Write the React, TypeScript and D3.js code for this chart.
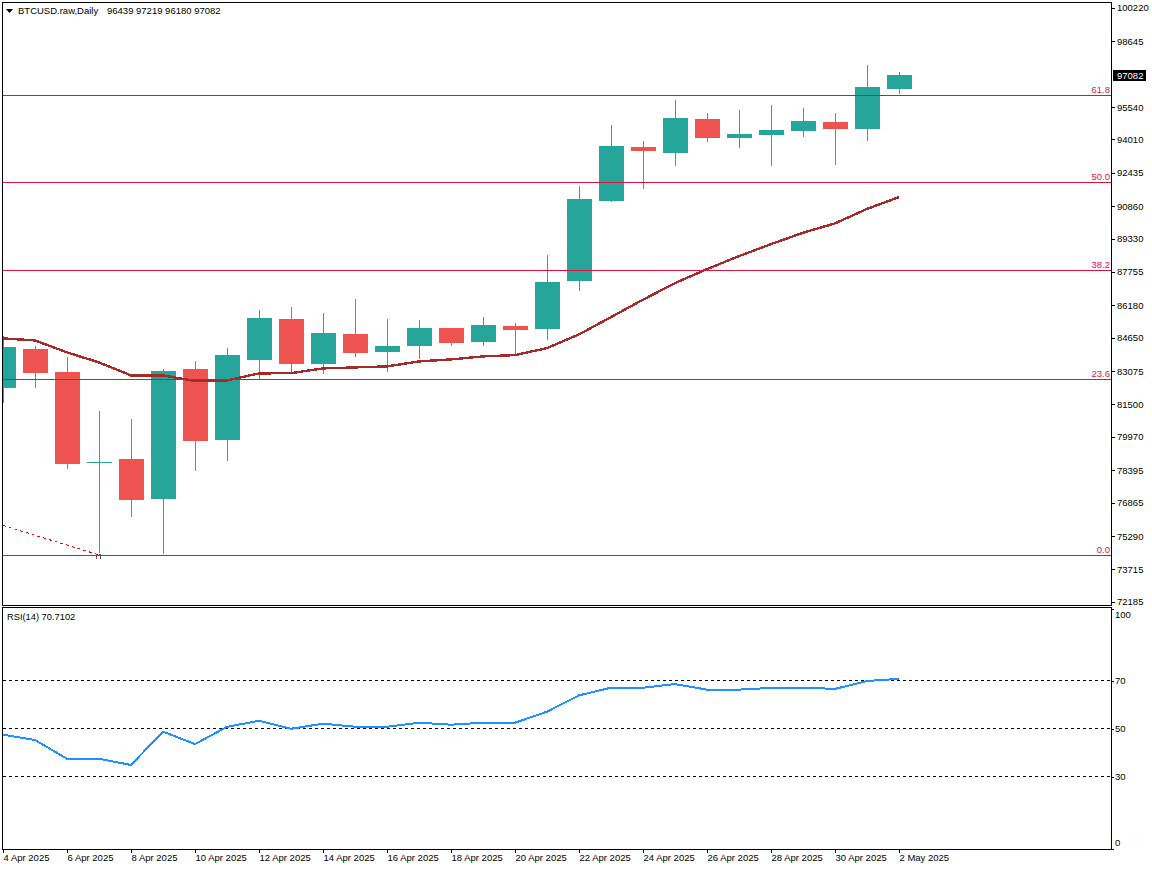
import { useEffect, useRef } from "react";
import * as d3 from "d3";

const width = 1152;
const height = 870;

// one candle per calendar day, 4 Apr to 2 May 2025
const opens = [82284, 84125, 83040, 78750, 78933, 77045, 83181, 79830, 83606, 85541, 83417, 84833, 83984, 84267, 85116, 84456, 85211, 85069, 87335, 91111, 93660, 93376, 94981, 94084, 94226, 94415, 94840, 94509, 96439];
const highs = [84739, 84267, 83748, 81199, 80821, 83181, 83559, 84172, 85966, 86108, 85824, 86485, 85541, 85494, 85140, 85636, 85352, 88562, 91819, 94698, 93943, 95878, 95264, 95406, 95642, 95500, 95264, 97530, 97219];
const lows = [81576, 82284, 78461, 74496, 76196, 74449, 78367, 78839, 82709, 82992, 82945, 83748, 83040, 83653, 84267, 84267, 83889, 84550, 86863, 91064, 91677, 92763, 93896, 93612, 92763, 94132, 92810, 93943, 96180];
const closes = [84220, 82992, 78697, 78792, 76998, 83087, 79783, 83842, 85588, 83417, 84880, 83936, 84267, 85116, 84406, 85258, 85022, 87288, 91205, 93707, 93471, 95028, 94084, 94273, 94462, 94887, 94509, 96492, 97082];
const maValues = [84644, 84550, 83984, 83512, 82898, 82898, 82638, 82662, 82992, 83006, 83228, 83276, 83323, 83559, 83653, 83795, 83856, 84187, 84833, 85650, 86471, 87255, 87915, 88529, 89095, 89633, 90072, 90757, 91314];
const rsiValues = [47.4, 45.2, 37.4, 37.4, 34.8, 48.7, 43.5, 50.7, 53.2, 49.9, 52.0, 50.75, 50.75, 52.4, 51.6, 52.4, 52.4, 57.0, 63.8, 67.0, 67.0, 68.5, 66.2, 66.2, 66.9, 67.0, 66.5, 69.8, 70.7];

const priceTicks = [100220, 98645, 95540, 94010, 92435, 90860, 89330, 87755, 86180, 84650, 83075, 81500, 79970, 78395, 76865, 75290, 73715, 72185];
const rsiTicks = [100, 70, 50, 30, 0];
const rsiLevels = [70, 50, 30];
const fibLevels = ["61.8", "50.0", "38.2", "23.6", "0.0"];
const fibPrices = [96090, 91984, 87830, 82686, 74378];
const trendPrices = [75818, 74426];
const lastPrice = 97082;

const GREEN = "#26a69a";
const RED = "#ef5350";
const CRIMSON = "#dc143c";
const FONT = "'Liberation Sans', sans-serif";

export default function App() {
  const svgRef = useRef<SVGSVGElement>(null);

  useEffect(() => {
    if (!svgRef.current) return;
    const svg = d3.select(svgRef.current);
    svg.selectAll("*").remove();

    const start = new Date(Date.UTC(2025, 3, 4));
    const end = new Date(Date.UTC(2025, 4, 2));
    const days = d3.utcDay.range(start, d3.utcDay.offset(end, 1));
    const x = d3.scaleUtc().domain([start, end]).range([3, 899]);
    const y = d3.scaleLinear().domain([72185, 100220]).range([602.4, 8.4]);
    const yRsi = d3.scaleLinear().domain([0, 100]).range([848.5, 608.5]);

    const defs = svg.append("defs");
    defs.append("clipPath").attr("id", "main-clip").append("rect")
      .attr("x", 3).attr("y", 3).attr("width", 1108).attr("height", 602);
    defs.append("clipPath").attr("id", "rsi-clip").append("rect")
      .attr("x", 3).attr("y", 608).attr("width", 1108).attr("height", 241);

    svg.append("rect").attr("width", width).attr("height", height).attr("fill", "#fff");

    const main = svg.append("g").attr("clip-path", "url(#main-clip)").attr("shape-rendering", "crispEdges");

    // Candles
    days.forEach((day, i) => {
      const cx = Math.round(x(day));
      const color = closes[i] >= opens[i] ? GREEN : RED;
      main.append("line")
        .attr("x1", cx + 0.5).attr("x2", cx + 0.5)
        .attr("y1", y(highs[i])).attr("y2", y(lows[i]))
        .attr("stroke", color);
      const top = Math.round(y(Math.max(opens[i], closes[i])));
      const bottom = Math.round(y(Math.min(opens[i], closes[i])));
      main.append("rect")
        .attr("x", cx - 12).attr("y", top)
        .attr("width", 25).attr("height", Math.max(bottom - top, 1))
        .attr("fill", color);
    });

    // Moving average
    const maLine = d3.line<number>().x((_, i) => x(days[i])).y((d) => y(d));
    main.append("path").attr("d", maLine(maValues))
      .attr("fill", "none").attr("stroke", "#a52a2a").attr("stroke-width", 2.4);

    // Dotted trend line with its end mark
    main.append("line")
      .attr("x1", x(days[0])).attr("x2", x(days[3]))
      .attr("y1", y(trendPrices[0])).attr("y2", y(trendPrices[1]))
      .attr("stroke", "#ff0000").attr("stroke-dasharray", "3,3");
    const endX = Math.round(x(days[3]));
    const endY = Math.round(y(trendPrices[1]));
    main.append("path")
      .attr("d", `M${endX - 2.5},${endY + 1}v3M${endX + 1.5},${endY + 1}v3M${endX},${endY - 0.5}h2`)
      .attr("fill", "none").attr("stroke", "#555");

    // Fibonacci levels
    fibPrices.forEach((p, i) => {
      const ly = Math.floor(y(p)) + 0.5;
      main.append("line").attr("x1", 3).attr("x2", 1111).attr("y1", ly).attr("y2", ly).attr("stroke", CRIMSON);
      svg.append("text")
        .attr("x", 1110).attr("y", ly - 3)
        .attr("text-anchor", "end")
        .attr("font-family", FONT).attr("font-size", 9.5)
        .attr("fill", CRIMSON)
        .text(fibLevels[i]);
    });

    // RSI panel
    const rsi = svg.append("g").attr("clip-path", "url(#rsi-clip)").attr("shape-rendering", "crispEdges");
    rsiLevels.forEach((lv) => {
      const ly = Math.floor(yRsi(lv)) + 0.5;
      rsi.append("line").attr("x1", 3).attr("x2", 1111).attr("y1", ly).attr("y2", ly)
        .attr("stroke", "#000").attr("stroke-dasharray", "3,3");
    });
    const rsiLine = d3.line<number>().x((_, i) => x(days[i])).y((d) => yRsi(d));
    rsi.append("path").attr("d", rsiLine(rsiValues))
      .attr("fill", "none").attr("stroke", "#1e90ff").attr("stroke-width", 2);

    // Frames
    const frames = svg.append("g").attr("fill", "none").attr("stroke", "#000").attr("shape-rendering", "crispEdges");
    frames.append("rect").attr("x", 2.5).attr("y", 2.5).attr("width", 1109).attr("height", 603);
    frames.append("rect").attr("x", 2.5).attr("y", 607.5).attr("width", 1109).attr("height", 242);

    // Axes
    const styleAxis = (g: d3.Selection<SVGGElement, unknown, null, undefined>) => {
      g.select(".domain").remove();
      g.selectAll("line").attr("stroke", "#000").attr("shape-rendering", "crispEdges");
      g.selectAll("text").attr("font-family", FONT).attr("font-size", 9.5).attr("fill", "#000");
    };

    svg.append("g")
      .attr("transform", "translate(1112,-0.6)")
      .call(d3.axisRight(y).tickValues(priceTicks).tickSize(3).tickPadding(2).tickFormat(d3.format("d")))
      .call(styleAxis);

    const rsiAxis = svg.append("g")
      .attr("transform", "translate(1112,0)")
      .call(d3.axisRight(yRsi).tickValues(rsiTicks).tickSize(2).tickPadding(1).tickFormat(d3.format("d")))
      .call(styleAxis);
    // end labels sit inside the panel
    rsiAxis.selectAll<SVGTextElement, number>("text")
      .attr("dy", (d) => (d === 100 ? "0.9em" : d === 0 ? "-0.27em" : "0.32em"));

    const xTicks = days.filter((_, i) => i % 2 === 0);
    svg.append("g")
      .attr("transform", "translate(0,849)")
      .call(d3.axisBottom(x).tickValues(xTicks).tickSize(4).tickPadding(1).tickFormat((d) => d3.utcFormat("%-d %b %Y")(d as Date)))
      .call(styleAxis)
      .selectAll("text").attr("text-anchor", "start");

    // Current price tag
    const tagY = Math.round(y(lastPrice));
    svg.append("rect").attr("x", 1113).attr("y", tagY - 5).attr("width", 33).attr("height", 11).attr("fill", "#000");
    svg.append("text").attr("x", 1117).attr("y", tagY + 3.5)
      .attr("font-family", FONT).attr("font-size", 9.5).attr("fill", "#fff").text(lastPrice);

    // Headers
    svg.append("path").attr("d", "M6,9h7l-3.5,4z").attr("fill", "#000");
    svg.append("text").attr("x", 18).attr("y", 14)
      .attr("font-family", FONT).attr("font-size", 9.5).attr("fill", "#000")
      .text("BTCUSD.raw,Daily");
    svg.append("text").attr("x", 107).attr("y", 14)
      .attr("font-family", FONT).attr("font-size", 9.5).attr("fill", "#000")
      .text(`${opens[28]} ${highs[28]} ${lows[28]} ${closes[28]}`);
    svg.append("text").attr("x", 7).attr("y", 620)
      .attr("font-family", FONT).attr("font-size", 9.3).attr("fill", "#000")
      .text("RSI(14) 70.7102");
  }, []);

  return (
    <svg
      ref={svgRef}
      width={width}
      height={height}
      style={{ position: "absolute", left: 0, top: 0 }}
    />
  );
}
